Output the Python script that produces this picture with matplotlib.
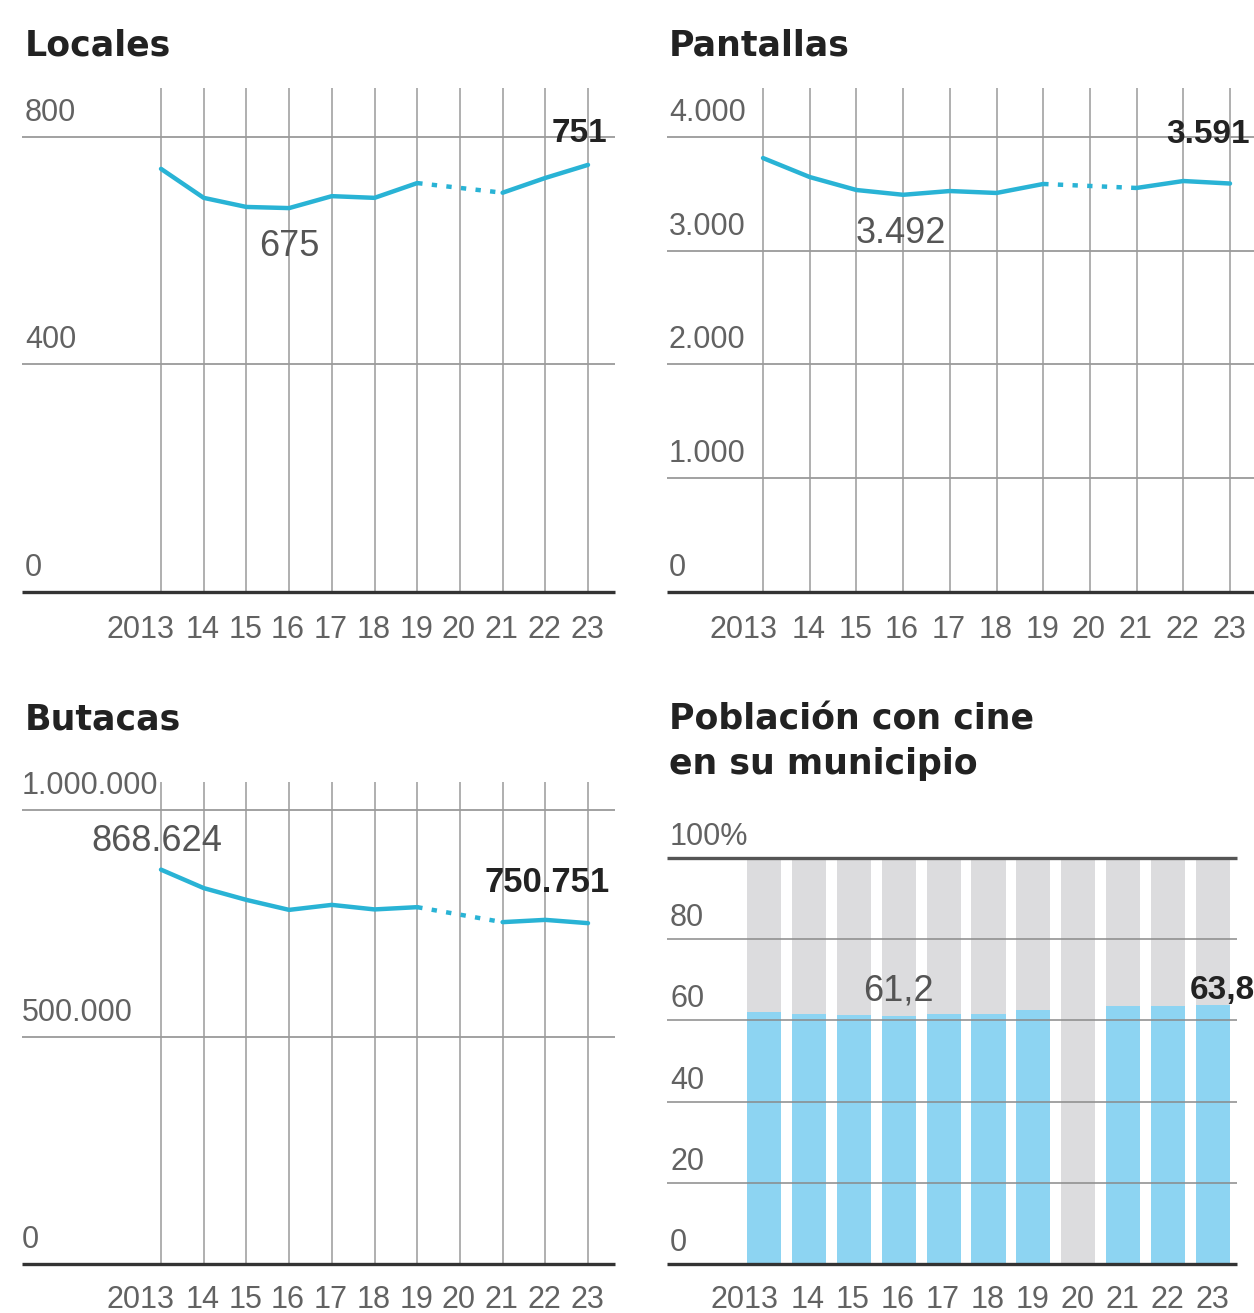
import numpy as np
import matplotlib
matplotlib.use("Agg")
import matplotlib.pyplot as plt

# ---------------- data ----------------
years = [2013, 2014, 2015, 2016, 2017, 2018, 2019, 2020, 2021, 2022, 2023]
year_labels = ["2013", "14", "15", "16", "17", "18", "19", "20", "21", "22", "23"]

locales = [744, 693, 677, 675, 696, 693, 719, None, 702, 728, 751]
pantallas = [3815, 3648, 3534, 3492, 3525, 3508, 3587, None, 3552, 3613, 3591]
butacas = [868624, 828000, 802000, 780000, 791000, 781000, 786000, None, 753000, 758000, 750751]
poblacion = [62.1, 61.6, 61.3, 61.2, 61.6, 61.6, 62.5, None, 63.5, 63.5, 63.8]
poblacion_total = [100] * 11

locales_ticks = [0, 400, 800]
locales_ticklabels = ["0", "400", "800"]
pantallas_ticks = [0, 1000, 2000, 3000, 4000]
pantallas_ticklabels = ["0", "1.000", "2.000", "3.000", "4.000"]
butacas_ticks = [0, 500000, 1000000]
butacas_ticklabels = ["0", "500.000", "1.000.000"]
poblacion_ticks = [0, 20, 40, 60, 80, 100]
poblacion_ticklabels = ["0", "20", "40", "60", "80", "100%"]

# ---------------- style ----------------
W, H = 1254, 1313
DPI = 100
PT = 72.0 / DPI  # px -> points

LINE_C = "#29b3d5"
BLUE = "#8dd4f2"
GREY_BAR = "#dcdcde"
GRID_C = "#9a9a9a"
BASE_C = "#333333"
TICK_C = "#626262"
LAB_C = "#555555"
BOLD_C = "#222222"

REG = "Liberation Sans"
TITLE_FONT = "DejaVu Sans"

fig = plt.figure(figsize=(W / DPI, H / DPI), dpi=DPI)
fig.patch.set_facecolor("white")


def add_ax(l, t, r, b):
    return fig.add_axes([l / W, 1 - b / H, (r - l) / W, (b - t) / H])


def clean(ax):
    for s in ax.spines.values():
        s.set_visible(False)
    ax.set_xticks([])
    ax.set_yticks([])
    ax.patch.set_alpha(0)


def ylabels(ax, ticks, labels, dx_px, dy_px, size=22):
    for v, lab in zip(ticks, labels):
        ax.annotate(lab, xy=(0, v), xycoords=("axes fraction", "data"),
                    xytext=(dx_px * PT, dy_px * PT), textcoords="offset points",
                    ha="left", va="baseline", fontsize=size, color=TICK_C,
                    family=REG, annotation_clip=False)


def xlabels(ax, dy_px, size=22):
    for y, lab in zip(years, year_labels):
        if lab == "2013":
            ha, dx = "right", 14
        else:
            ha, dx = "center", -1
        ax.annotate(lab, xy=(y, 0), xycoords="data",
                    xytext=(dx * PT, -dy_px * PT), textcoords="offset points",
                    ha=ha, va="baseline", fontsize=size, color=TICK_C,
                    family=REG, annotation_clip=False)


def label(ax, x, y, txt, dx_px, dy_px, bold=False, ha="center", size=26):
    ax.annotate(txt, xy=(x, y), xycoords="data",
                xytext=(dx_px * PT, dy_px * PT), textcoords="offset points",
                ha=ha, va="baseline", fontsize=size,
                color=BOLD_C if bold else LAB_C,
                fontweight="bold" if bold else "normal",
                family=REG, annotation_clip=False, zorder=10)


def line_panel(ax, values, ticks, xlim, ylim):
    clean(ax)
    ax.set_xlim(*xlim)
    ax.set_ylim(*ylim)
    # vertical year lines
    ax.vlines(years, 0, ylim[1], color=GRID_C, lw=1.1, zorder=1)
    # horizontal grid
    x0, x1 = xlim
    for t in ticks:
        if t == 0:
            ax.hlines(0, x0, x1, color=BASE_C, lw=2.4, zorder=3, clip_on=False)
        else:
            ax.hlines(t, x0, x1, color=GRID_C, lw=1.3, zorder=1)
    vals = np.array([np.nan if v is None else v for v in values], dtype=float)
    ax.plot(years, vals, color=LINE_C, lw=3.2, solid_capstyle="round",
            solid_joinstyle="round", zorder=5)
    # dotted bridge over missing years
    idx = [i for i, v in enumerate(values) if v is None]
    for i in idx:
        a, b = i - 1, i + 1
        ax.plot([years[a], years[b]], [vals[a], vals[b]], color=LINE_C, lw=3.2,
                linestyle=(0, (1.2, 2.1)), zorder=5)


# ---------------- Panel 1: Locales ----------------
ax1 = add_ax(22, 88, 615, 592)
s1 = (588 - 161) / 10
xl1 = (2013 - (161 - 22) / s1, 2023 + (615 - 588) / s1)
yl1 = (0, (592 - 88) / ((592 - 137) / 800))
line_panel(ax1, locales, locales_ticks, xl1, yl1)
ylabels(ax1, locales_ticks, locales_ticklabels, 3, 16)
xlabels(ax1, 46)
label(ax1, 2016, 675, "675", 0, -48)
label(ax1, 2023, 751, "751", 19, 23, bold=True, ha="right", size=24)

# ---------------- Panel 2: Pantallas ----------------
ax2 = add_ax(667, 88, 1254, 592)
s2 = (1230 - 763) / 10
xl2 = (2013 - (763 - 667) / s2, 2023 + (1254 - 1230) / s2)
yl2 = (0, (592 - 88) / ((592 - 137) / 4000))
line_panel(ax2, pantallas, pantallas_ticks, xl2, yl2)
ylabels(ax2, pantallas_ticks, pantallas_ticklabels, 2, 16)
xlabels(ax2, 46)
label(ax2, 2016, 3492, "3.492", -2, -48)
label(ax2, 2023, 3591, "3.591", 20, 41, bold=True, ha="right", size=24)

# ---------------- Panel 3: Butacas ----------------
ax3 = add_ax(22, 782, 615, 1264)
yl3 = (0, (1264 - 782) / ((1264 - 810) / 1000000))
line_panel(ax3, butacas, butacas_ticks, xl1, yl3)
ylabels(ax3, butacas_ticks, butacas_ticklabels, 0, 16)
xlabels(ax3, 44)
label(ax3, 2013, 868624, "868.624", -4, 19)
label(ax3, 2023, 750751, "750.751", 22, 31, bold=True, ha="right", size=25)

# ---------------- Panel 4: Población ----------------
ax4 = add_ax(667, 858, 1237, 1264)
clean(ax4)
s4 = (1213 - 764) / 10
xl4 = (2013 - (764 - 667) / s4, 2023 + (1237 - 1213) / s4)
ax4.set_xlim(*xl4)
ax4.set_ylim(0, 100)
ax4.bar(years, poblacion_total, width=0.76, color=GREY_BAR, zorder=1)
pvals = [np.nan if v is None else v for v in poblacion]
ax4.bar(years, pvals, width=0.76, color=BLUE, zorder=2)
for t in poblacion_ticks:
    if t in (0, 100):
        ax4.hlines(t, xl4[0], xl4[1], color=BASE_C if t == 0 else "#555555",
                   lw=2.4, zorder=4, clip_on=False)
    else:
        ax4.hlines(t, xl4[0], xl4[1], color="#8a8a8a", lw=1.1, zorder=3)
ylabels(ax4, poblacion_ticks, poblacion_ticklabels, 3, 13)
xlabels(ax4, 44)
label(ax4, 2016, 61.2, "61,2", 0, 15)
label(ax4, 2023, 63.8, "63,8", 42, 6, bold=True, ha="right", size=24)

# ---------------- Titles ----------------
def title(x, y, txt):
    fig.text(x / W, 1 - y / H, txt, ha="left", va="baseline", fontsize=25,
             fontweight="bold", family=TITLE_FONT, color="#222222")

title(25, 55, "Locales")
title(669, 55, "Pantallas")
title(25, 729, "Butacas")
title(669, 729, "Población con cine")
title(669, 774, "en su municipio")

fig.savefig("out.png", dpi=DPI, facecolor="white")
